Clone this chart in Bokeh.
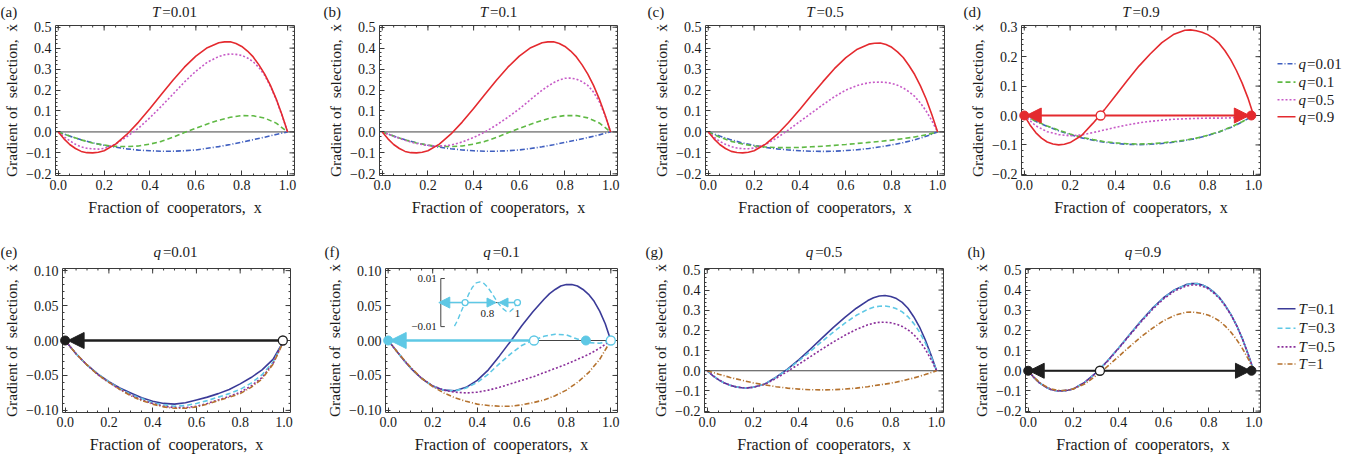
from bokeh.plotting import figure
from bokeh.models import Range1d, FixedTicker, Span, Arrow, NormalHead
from bokeh.layouts import row, column
from bokeh.embed import file_html
from bokeh.resources import INLINE
from bokeh.core.properties import value

# ---------------------------------------------------------------- data
# coarse grid (gently curved series) and fine grid (strongly curved series)
X = [0.0, 0.05, 0.1, 0.15, 0.2, 0.25, 0.3, 0.35, 0.4, 0.45, 0.5,
     0.55, 0.6, 0.65, 0.7, 0.75, 0.8, 0.85, 0.9, 0.95, 1.0]
XF = [0.0, 0.025, 0.05, 0.075, 0.1, 0.125, 0.15, 0.175, 0.2, 0.25, 0.3, 0.35, 0.4, 0.45,
      0.5, 0.55, 0.6, 0.65, 0.7, 0.725, 0.75, 0.775, 0.8, 0.825, 0.85, 0.875, 0.9, 0.925,
      0.95, 0.975, 1.0]

# (a) T=0.01
A_Q001 = [0.0, -0.020, -0.037, -0.052, -0.064, -0.073, -0.081, -0.087, -0.090, -0.092, -0.092,
          -0.090, -0.086, -0.078, -0.070, -0.060, -0.049, -0.037, -0.025, -0.012, 0.0]
A_Q01 = [0.0, -0.020, -0.038, -0.053, -0.063, -0.069, -0.070, -0.067, -0.058, -0.045, -0.025,
         -0.003, 0.018, 0.038, 0.056, 0.070, 0.078, 0.077, 0.066, 0.042, 0.0]
A_Q05 = [0.0, -0.023, -0.042, -0.059, -0.071, -0.078, -0.081, -0.082, -0.079, -0.058, -0.022,
         0.018, 0.068, 0.123, 0.180, 0.238, 0.290, 0.333, 0.360, 0.368, 0.372, 0.370, 0.365,
         0.353, 0.335, 0.307, 0.270, 0.218, 0.155, 0.080, 0.0]
A_Q09 = [0.0, -0.033, -0.060, -0.079, -0.093, -0.099, -0.100, -0.097, -0.090, -0.058, -0.011,
         0.047, 0.112, 0.180, 0.247, 0.309, 0.362, 0.402, 0.426, 0.430, 0.430, 0.422, 0.408,
         0.386, 0.358, 0.320, 0.276, 0.222, 0.158, 0.083, 0.0]
# (b) T=0.1
B_Q001 = [0.0, -0.020, -0.037, -0.052, -0.064, -0.073, -0.080, -0.086, -0.090, -0.092, -0.092,
          -0.090, -0.086, -0.079, -0.071, -0.061, -0.050, -0.039, -0.027, -0.014, 0.0]
B_Q01 = [0.0, -0.020, -0.038, -0.053, -0.063, -0.069, -0.070, -0.067, -0.058, -0.045, -0.026,
         -0.004, 0.017, 0.037, 0.055, 0.070, 0.078, 0.078, 0.067, 0.043, 0.0]
B_Q05 = [0.0, -0.010, -0.021, -0.030, -0.040, -0.048, -0.055, -0.060, -0.065, -0.068, -0.063,
         -0.048, -0.027, 0.000, 0.033, 0.070, 0.110, 0.155, 0.199, 0.218, 0.235, 0.248, 0.256,
         0.257, 0.252, 0.240, 0.222, 0.190, 0.145, 0.080, 0.0]
B_Q09 = [0.0, -0.033, -0.060, -0.079, -0.093, -0.099, -0.100, -0.097, -0.090, -0.058, -0.011,
         0.047, 0.112, 0.180, 0.247, 0.309, 0.362, 0.402, 0.426, 0.430, 0.430, 0.422, 0.408,
         0.386, 0.358, 0.320, 0.276, 0.222, 0.158, 0.083, 0.0]
# (c) T=0.5
C_Q001 = [0.0, -0.020, -0.038, -0.053, -0.064, -0.074, -0.081, -0.086, -0.090, -0.092, -0.093,
          -0.092, -0.089, -0.085, -0.079, -0.071, -0.062, -0.051, -0.038, -0.021, 0.0]
C_Q01 = [0.0, -0.025, -0.045, -0.058, -0.067, -0.072, -0.075, -0.075, -0.074, -0.071, -0.068,
         -0.064, -0.060, -0.055, -0.050, -0.045, -0.039, -0.032, -0.024, -0.014, 0.0]
C_Q05 = [0.0, -0.025, -0.045, -0.059, -0.070, -0.077, -0.080, -0.080, -0.077, -0.060, -0.028,
         0.010, 0.050, 0.090, 0.130, 0.168, 0.200, 0.222, 0.235, 0.237, 0.238, 0.236, 0.232,
         0.223, 0.210, 0.192, 0.170, 0.138, 0.100, 0.053, 0.0]
C_Q09 = [0.0, -0.033, -0.060, -0.079, -0.093, -0.098, -0.100, -0.097, -0.090, -0.058, -0.012,
         0.045, 0.108, 0.175, 0.240, 0.302, 0.355, 0.395, 0.419, 0.423, 0.424, 0.417, 0.404,
         0.382, 0.355, 0.317, 0.274, 0.220, 0.157, 0.082, 0.0]
# (d) T=0.9
D_Q001 = [0.0, -0.020, -0.037, -0.052, -0.065, -0.076, -0.084, -0.091, -0.095, -0.098, -0.099,
          -0.098, -0.095, -0.091, -0.085, -0.078, -0.068, -0.056, -0.041, -0.022, 0.0]
D_Q01 = [0.0, -0.019, -0.036, -0.050, -0.063, -0.074, -0.082, -0.089, -0.093, -0.096, -0.097,
         -0.096, -0.093, -0.089, -0.084, -0.077, -0.067, -0.055, -0.040, -0.021, 0.0]
D_Q05 = [0.0, -0.035, -0.055, -0.065, -0.069, -0.066, -0.058, -0.049, -0.040, -0.032, -0.025,
         -0.020, -0.016, -0.013, -0.011, -0.010, -0.009, -0.009, -0.008, -0.005, 0.0]
D_Q09 = [0.0, -0.032, -0.058, -0.077, -0.090, -0.097, -0.100, -0.098, -0.092, -0.068, -0.026,
         0.020, 0.070, 0.120, 0.168, 0.210, 0.248, 0.275, 0.290, 0.291, 0.288, 0.283, 0.275,
         0.262, 0.245, 0.220, 0.190, 0.153, 0.110, 0.060, 0.0]
# (e) q=0.01
E_T01 = [0.0, -0.019, -0.035, -0.048, -0.059, -0.068, -0.075, -0.082, -0.087, -0.090, -0.091,
         -0.089, -0.085, -0.081, -0.076, -0.070, -0.062, -0.053, -0.042, -0.027, 0.0]
E_T03 = [0.0, -0.019, -0.035, -0.048, -0.059, -0.069, -0.077, -0.083, -0.089, -0.092, -0.094,
         -0.093, -0.090, -0.086, -0.081, -0.076, -0.070, -0.061, -0.049, -0.031, 0.0]
E_T05 = [0.0, -0.019, -0.035, -0.049, -0.060, -0.070, -0.078, -0.085, -0.090, -0.094, -0.096,
         -0.096, -0.094, -0.090, -0.085, -0.080, -0.074, -0.065, -0.053, -0.033, 0.0]
E_T1 = [0.0, -0.019, -0.035, -0.049, -0.060, -0.070, -0.079, -0.086, -0.091, -0.095, -0.097,
        -0.097, -0.095, -0.091, -0.086, -0.081, -0.076, -0.067, -0.055, -0.034, 0.0]
# (f) q=0.1
F_T01 = [0.0, -0.010, -0.020, -0.030, -0.039, -0.047, -0.054, -0.060, -0.065, -0.071, -0.072,
         -0.067, -0.057, -0.042, -0.022, -0.001, 0.021, 0.041, 0.059, 0.067, 0.073, 0.078,
         0.080, 0.080, 0.078, 0.073, 0.066, 0.056, 0.042, 0.024, 0.0]
F_T03 = [0.0, -0.020, -0.039, -0.054, -0.065, -0.071, -0.072, -0.068, -0.060, -0.048, -0.033,
         -0.019, -0.007, 0.000, 0.006, 0.009, 0.008, 0.002, -0.003, -0.004, 0.0]
F_T05 = [0.0, -0.020, -0.039, -0.054, -0.065, -0.071, -0.074, -0.075, -0.074, -0.071, -0.067,
         -0.062, -0.057, -0.052, -0.046, -0.040, -0.034, -0.027, -0.020, -0.011, 0.0]
F_T1 = [0.0, -0.020, -0.038, -0.054, -0.066, -0.075, -0.082, -0.087, -0.091, -0.093, -0.094,
        -0.094, -0.092, -0.089, -0.085, -0.079, -0.071, -0.060, -0.046, -0.027, 0.0]
# (f) inset, T=0.3 close to x=1
INSET_X = [0.58, 0.6, 0.625, 0.65, 0.675, 0.7, 0.725, 0.75, 0.775, 0.8, 0.825, 0.85,
           0.875, 0.9, 0.925, 0.95, 0.975, 1.0]
INSET_Y = [-0.0098, -0.0075, -0.0037, -0.0001, 0.0035, 0.0064, 0.0082, 0.0086, 0.0080, 0.0065,
           0.0043, 0.0018, -0.0005, -0.0024, -0.0036, -0.0037, -0.0024, 0.0]
# (g) q=0.5
G_T01 = [0.0, -0.025, -0.045, -0.061, -0.072, -0.080, -0.084, -0.085, -0.082, -0.066, -0.032,
         0.008, 0.055, 0.108, 0.162, 0.215, 0.265, 0.310, 0.348, 0.362, 0.371, 0.373, 0.368,
         0.358, 0.339, 0.310, 0.268, 0.218, 0.155, 0.080, 0.0]
G_T03 = [0.0, -0.025, -0.045, -0.061, -0.072, -0.080, -0.084, -0.085, -0.082, -0.066, -0.033,
         0.006, 0.050, 0.097, 0.145, 0.192, 0.236, 0.275, 0.305, 0.315, 0.320, 0.321, 0.317,
         0.307, 0.292, 0.268, 0.235, 0.193, 0.140, 0.073, 0.0]
G_T05 = [0.0, -0.025, -0.045, -0.061, -0.072, -0.080, -0.084, -0.085, -0.082, -0.068, -0.038,
         -0.003, 0.033, 0.070, 0.107, 0.143, 0.176, 0.205, 0.228, 0.236, 0.240, 0.241, 0.238,
         0.231, 0.220, 0.203, 0.180, 0.148, 0.108, 0.057, 0.0]
G_T1 = [0.0, -0.017, -0.033, -0.047, -0.060, -0.070, -0.079, -0.086, -0.091, -0.094, -0.095,
        -0.094, -0.091, -0.086, -0.079, -0.070, -0.062, -0.050, -0.036, -0.019, 0.0]
# (h) q=0.9
H_T01 = [0.0, -0.033, -0.060, -0.079, -0.093, -0.099, -0.100, -0.097, -0.090, -0.058, -0.011,
         0.047, 0.112, 0.180, 0.247, 0.309, 0.362, 0.402, 0.427, 0.432, 0.432, 0.424, 0.410,
         0.388, 0.360, 0.322, 0.277, 0.223, 0.158, 0.083, 0.0]
H_T03 = [0.0, -0.033, -0.060, -0.079, -0.093, -0.099, -0.100, -0.097, -0.090, -0.058, -0.011,
         0.047, 0.111, 0.179, 0.246, 0.308, 0.361, 0.401, 0.426, 0.431, 0.431, 0.423, 0.409,
         0.387, 0.359, 0.321, 0.277, 0.223, 0.158, 0.083, 0.0]
H_T05 = [0.0, -0.033, -0.060, -0.079, -0.093, -0.099, -0.100, -0.097, -0.090, -0.058, -0.012,
         0.045, 0.109, 0.176, 0.242, 0.303, 0.356, 0.396, 0.420, 0.425, 0.425, 0.418, 0.405,
         0.383, 0.356, 0.318, 0.275, 0.221, 0.157, 0.082, 0.0]
H_T1 = [0.0, -0.032, -0.058, -0.076, -0.090, -0.096, -0.098, -0.096, -0.090, -0.066, -0.025,
        0.020, 0.070, 0.120, 0.168, 0.210, 0.248, 0.275, 0.290, 0.291, 0.288, 0.283, 0.275,
        0.262, 0.245, 0.220, 0.190, 0.153, 0.110, 0.060, 0.0]

# equilibria (fixed points) marked on the x axis
D_STABLE, D_UNSTABLE = [0.0, 0.99], [0.333]
E_STABLE, E_UNSTABLE = [0.0], [0.995]
F_STABLE, F_UNSTABLE = [0.0, 0.888], [0.655, 1.0]
FI_STABLE, FI_UNSTABLE = [0.867], [0.651, 1.0]
H_STABLE, H_UNSTABLE = [0.0, 0.99], [0.318]

TOP_VAR, TOP_VALUES = "q", ["=0.01", "=0.1", "=0.5", "=0.9"]
BOT_VAR, BOT_VALUES = "T", ["=0.1", "=0.3", "=0.5", "=1"]
TOP_TITLE_VAR, TOP_TITLE_VALUES = "T", ["=0.01", "=0.1", "=0.5", "=0.9"]
BOT_TITLE_VAR, BOT_TITLE_VALUES = "q", ["=0.01", "=0.1", "=0.5", "=0.9"]
LETTERS = ["(a)", "(b)", "(c)", "(d)", "(e)", "(f)", "(g)", "(h)"]
X_LABEL = "Fraction of\u2002cooperators,\u2002x"
Y_LABEL = "Gradient of\u2002selection,\u2002\u1e8b"

XTICKS = [0.0, 0.2, 0.4, 0.6, 0.8, 1.0]
XTICK_LABELS = ["0.0", "0.2", "0.4", "0.6", "0.8", "1.0"]
Y_WIDE_TICKS = [-0.2, -0.1, 0.0, 0.1, 0.2, 0.3, 0.4, 0.5]
Y_WIDE_LABELS = ["\u22120.2", "\u22120.1", "0.0", "0.1", "0.2", "0.3", "0.4", "0.5"]
Y_D_TICKS = [-0.2, -0.1, 0.0, 0.1, 0.2, 0.3]
Y_D_LABELS = ["\u22120.2", "\u22120.1", "0.0", "0.1", "0.2", "0.3"]
Y_NARROW_TICKS = [-0.1, -0.05, 0.0, 0.05, 0.1]
Y_NARROW_LABELS = ["\u22120.10", "\u22120.05", "0.00", "0.05", "0.10"]
INSET_XTICKS = [0.8, 1.0]
INSET_XTICK_LABELS = ["0.8", "1"]
INSET_YTICKS = [0.01, -0.01]
INSET_YTICK_LABELS = ["0.01", "\u22120.01"]

# ---------------------------------------------------------------- style / layout
FONT = "Liberation Serif"
INK = "#1a1a1a"
FRAME = "#3a3a3a"
TOP_COLORS = ["#3f5fc0", "#5fb944", "#c75bc7", "#e42a2f"]
TOP_DASH = ["5 2 1 2", "5 3", "2 2", "solid"]
BOT_COLORS = ["#3b3b98", "#5ec8e5", "#8a2e9a", "#b5722e"]
BOT_DASH = ["solid", "5 3", "2 2", "5 2 1 2"]
RED = "#e42a2f"
CYAN = "#5ec8e5"
BLACK = "#1e1e1e"

XR = (-0.012, 1.03)
YR_WIDE = (-0.208, 0.508)
YR_D = (-0.204, 0.306)
YR_NARROW = (-0.103, 0.103)
YR_WIDE2 = (-0.207, 0.507)

# page geometry (x from the page's left edge, y from the top of the layout)
HDR1 = dict(top=0, H=20)
HDR2 = dict(top=232, H=30)
GEOM = {
    "a": dict(left=8, top=20, W=317, H=212, L=54, R=23, T=5, B=57),
    "b": dict(left=325, top=20, W=327, H=212, L=62, R=27, T=5, B=57),
    "c": dict(left=652, top=20, W=320, H=212, L=61, R=20, T=5, B=57),
    "d": dict(left=972, top=20, W=300, H=212, L=57, R=4, T=5, B=57),
    "e": dict(left=8, top=262, W=317, H=193, L=60, R=27, T=6, B=42),
    "f": dict(left=325, top=262, W=327, H=193, L=68, R=27, T=6, B=42),
    "g": dict(left=652, top=262, W=320, H=193, L=60, R=21, T=6, B=42),
    "h": dict(left=972, top=262, W=300, H=193, L=61, R=4, T=6, B=42),
}
LEG_W = 86
LEG_TOP_Y = [74, 100, 125, 149]
LEG_BOT_Y = [316, 342, 367, 390]
LETTER_X = {"a": 8, "b": 331, "c": 655, "d": 971, "e": 8, "f": 332, "g": 653, "h": 975}
TITLE_Y1, TITLE_Y2 = 11, 251

CW = {".": 3.75, "=": 8.5, "T": 8.3, "q": 7.5}


def tw(s):
    return sum(CW.get(c, 7.5) for c in s)


def frame_of(g):
    fl = g["left"] + g["L"]
    ft = g["top"] + g["T"]
    return fl, ft, g["W"] - g["L"] - g["R"], g["H"] - g["T"] - g["B"]


def style_axis(ax, label_size):
    ax.axis_line_color = None
    ax.major_tick_in = 5
    ax.major_tick_out = 0
    ax.minor_tick_in = 2
    ax.minor_tick_out = 0
    ax.major_tick_line_color = FRAME
    ax.minor_tick_line_color = FRAME
    ax.major_label_text_font = FONT
    ax.major_label_text_font_size = "14px"
    ax.major_label_text_color = INK
    ax.major_label_standoff = 4
    ax.axis_label_text_font = FONT
    ax.axis_label_text_font_size = label_size
    ax.axis_label_text_font_style = "normal"
    ax.axis_label_text_color = INK


def add_arrow(p, x0, x1, color, lw, size, rng=None):
    kw = {}
    if rng:
        kw = dict(x_range_name=rng[0], y_range_name=rng[1])
    p.add_layout(Arrow(end=NormalHead(size=size, fill_color=color, line_color=color, line_width=1),
                       x_start=x0, y_start=0, x_end=x1, y_end=0,
                       line_color=color, line_width=lw, **kw))


def add_points(p, stable, unstable, color, size=9, rng=None):
    kw = {}
    if rng:
        kw = dict(x_range_name=rng[0], y_range_name=rng[1])
    if stable:
        p.scatter(stable, [0.0] * len(stable), size=size, fill_color=color, line_color=color,
                  level="overlay", **kw)
    if unstable:
        p.scatter(unstable, [0.0] * len(unstable), size=size, fill_color="white",
                  line_color=color, line_width=1.3, level="overlay", **kw)


def blank_fig(x0, x1, y_top, y_bot, w, h):
    p = figure(width=w, height=h, x_range=Range1d(x0, x1), y_range=Range1d(y_bot, y_top),
               min_border=0, x_axis_location=None, y_axis_location=None,
               output_backend="svg", toolbar_location=None)
    p.xgrid.visible = False
    p.ygrid.visible = False
    p.outline_line_color = None
    p.background_fill_color = "white"
    p.border_fill_color = "white"
    return p


def put_text(p, xs, ys, texts, italic=False, size="15px", align="left"):
    p.text(x=xs, y=ys, text=texts, text_font=value(FONT), text_font_size=size,
           text_font_style="italic" if italic else "normal", text_color=INK,
           text_align=align, text_baseline="middle")


def build(key, series, colors, dashes, yr, yticks, ylabels, yminor):
    g = GEOM[key]
    p = figure(width=g["W"], height=g["H"], min_border_left=g["L"], min_border_right=g["R"],
               min_border_top=g["T"], min_border_bottom=g["B"],
               x_range=Range1d(*XR), y_range=Range1d(*yr),
               output_backend="svg", toolbar_location=None,
               x_axis_label=X_LABEL, y_axis_label=Y_LABEL)
    p.xgrid.visible = False
    p.ygrid.visible = False
    p.outline_line_color = FRAME
    p.outline_line_width = 1
    p.background_fill_color = "white"
    p.border_fill_color = "white"

    xminor = [round(0.05 * i, 2) for i in range(21)]
    p.xaxis.ticker = FixedTicker(ticks=XTICKS, minor_ticks=xminor)
    p.yaxis.ticker = FixedTicker(ticks=yticks, minor_ticks=yminor)
    p.xaxis.major_label_overrides = dict(zip(XTICKS, XTICK_LABELS))
    p.yaxis.major_label_overrides = dict(zip(yticks, ylabels))
    style_axis(p.xaxis[0], "16px")
    style_axis(p.yaxis[0], "15.5px")
    p.xaxis.axis_label_standoff = 6
    p.yaxis.axis_label_standoff = 3

    # mirrored ticks on the top and right edges of the frame
    fl, ft, fw, fh = frame_of(g)
    ux = (XR[1] - XR[0]) / fw
    uy = (yr[1] - yr[0]) / fh
    tx = XTICKS + xminor
    tlen = [5 * uy] * len(XTICKS) + [2 * uy] * len(xminor)
    p.segment(x0=tx, y0=[yr[1]] * len(tx), x1=tx, y1=[yr[1] - d for d in tlen],
              line_color=FRAME, line_width=1)
    ty = yticks + yminor
    tlen = [5 * ux] * len(yticks) + [2 * ux] * len(yminor)
    p.segment(x0=[XR[1]] * len(ty), y0=ty, x1=[XR[1] - d for d in tlen], y1=ty,
              line_color=FRAME, line_width=1)

    p.add_layout(Span(location=0, dimension="width", line_color="#444444", line_width=1,
                      level="underlay"))
    for (xs, ys), c, d in zip(series, colors, dashes):
        p.line(xs, ys, line_color=c, line_width=1.6, line_dash=d)
    return p


def px_per_x(key):
    fl, ft, fw, fh = frame_of(GEOM[key])
    return fw / (XR[1] - XR[0])


def header(hdr, keys, var, values, ty):
    p = blank_fig(8, 1358, hdr["top"], hdr["top"] + hdr["H"], 1350, hdr["H"])
    for k, val in zip(keys, values):
        letter = LETTERS["abcdefgh".index(k)]
        fl, ft, fw, fh = frame_of(GEOM[k])
        total = tw(var) + 2 + tw(val)
        sx = fl + fw / 2 - total / 2
        put_text(p, [sx], [ty], [var], italic=True)
        put_text(p, [sx + tw(var) + 2], [ty], [val])
        put_text(p, [LETTER_X[k]], [ty], [letter])
    return p


def legend_fig(key, colors, dashes, var, values, ys):
    g = GEOM[key]
    x0 = g["left"] + g["W"]
    p = blank_fig(x0, x0 + LEG_W, g["top"], g["top"] + g["H"], LEG_W, g["H"])
    for c, d, val, y in zip(colors, dashes, values, ys):
        p.line([x0 + 13, x0 + 31], [y, y], line_color=c, line_width=1.6, line_dash=d)
        put_text(p, [x0 + 34], [y], [var], italic=True)
        put_text(p, [x0 + 34 + tw(var) + 1], [y], [val])
    return p


wy_minor = [round(-0.2 + 0.02 * i, 3) for i in range(36)]
dy_minor = [round(-0.2 + 0.02 * i, 3) for i in range(26)]
ny_minor = [round(-0.1 + 0.01 * i, 3) for i in range(21)]

pa = build("a", [(X, A_Q001), (X, A_Q01), (XF, A_Q05), (XF, A_Q09)], TOP_COLORS, TOP_DASH,
           YR_WIDE, Y_WIDE_TICKS, Y_WIDE_LABELS, wy_minor)
pb = build("b", [(X, B_Q001), (X, B_Q01), (XF, B_Q05), (XF, B_Q09)], TOP_COLORS, TOP_DASH,
           YR_WIDE, Y_WIDE_TICKS, Y_WIDE_LABELS, wy_minor)
pc = build("c", [(X, C_Q001), (X, C_Q01), (XF, C_Q05), (XF, C_Q09)], TOP_COLORS, TOP_DASH,
           YR_WIDE, Y_WIDE_TICKS, Y_WIDE_LABELS, wy_minor)
pd_ = build("d", [(X, D_Q001), (X, D_Q01), (X, D_Q05), (XF, D_Q09)], TOP_COLORS, TOP_DASH,
            YR_D, Y_D_TICKS, Y_D_LABELS, dy_minor)
pe = build("e", [(X, E_T01), (X, E_T03), (X, E_T05), (X, E_T1)], BOT_COLORS, BOT_DASH,
           YR_NARROW, Y_NARROW_TICKS, Y_NARROW_LABELS, ny_minor)
pf = build("f", [(XF, F_T01), (X, F_T03), (X, F_T05), (X, F_T1)], BOT_COLORS, BOT_DASH,
           YR_NARROW, Y_NARROW_TICKS, Y_NARROW_LABELS, ny_minor)
pg = build("g", [(XF, G_T01), (XF, G_T03), (XF, G_T05), (X, G_T1)], BOT_COLORS, BOT_DASH,
           YR_WIDE2, Y_WIDE_TICKS, Y_WIDE_LABELS, wy_minor)
ph = build("h", [(XF, H_T01), (XF, H_T03), (XF, H_T05), (XF, H_T1)], BOT_COLORS, BOT_DASH,
           YR_WIDE2, Y_WIDE_TICKS, Y_WIDE_LABELS, wy_minor)

# ---- phase-line arrows and fixed points
k = px_per_x("d")
add_arrow(pd_, D_UNSTABLE[0], D_STABLE[0] + 2 / k, RED, 2, 15)
add_arrow(pd_, D_UNSTABLE[0], D_STABLE[1] - 2 / k, RED, 2, 15)
add_points(pd_, D_STABLE, D_UNSTABLE, RED)

k = px_per_x("e")
add_arrow(pe, E_UNSTABLE[0], E_STABLE[0] + 3 / k, BLACK, 2.5, 16)
add_points(pe, E_STABLE, E_UNSTABLE, BLACK)

k = px_per_x("f")
add_arrow(pf, F_UNSTABLE[0], F_STABLE[0] + 2 / k, CYAN, 2.5, 16)
add_points(pf, F_STABLE, F_UNSTABLE, CYAN)

k = px_per_x("h")
add_arrow(ph, H_UNSTABLE[0], H_STABLE[0] + 1 / k, BLACK, 2, 15)
add_arrow(ph, H_UNSTABLE[0], H_STABLE[1] - 1 / k, BLACK, 2, 15)
add_points(ph, H_STABLE, H_UNSTABLE, BLACK)

# ---- inset of panel (f): its own scales placed inside the frame
ffl, fft, ffw, ffh = frame_of(GEOM["f"])
INSET_AXIS_X = 0.489                 # where the inset's vertical axis sits (inset units)
IPX_X, IPX_Y = 150.0, 2420.0         # inset scale, px per unit
IPAGE_X, IPAGE_Y = 448.3, 302.3      # page position of the inset origin
ix0 = INSET_AXIS_X - (IPAGE_X - ffl) / IPX_X
iy1 = (IPAGE_Y - fft) / IPX_Y
pf.extra_x_ranges = {"ix": Range1d(ix0, ix0 + ffw / IPX_X)}
pf.extra_y_ranges = {"iy": Range1d(iy1 - ffh / IPX_Y, iy1)}
RNG = ("ix", "iy")
tick_dx = 4 / IPX_X
pf.segment(x0=[INSET_AXIS_X], y0=[0.0], x1=[1.0], y1=[0.0], line_color="#555555",
           line_width=1, x_range_name="ix", y_range_name="iy")
pf.segment(x0=[INSET_AXIS_X] * 3, y0=[INSET_YTICKS[1], INSET_YTICKS[0], INSET_YTICKS[1]],
           x1=[INSET_AXIS_X, INSET_AXIS_X + tick_dx, INSET_AXIS_X + tick_dx],
           y1=[INSET_YTICKS[0], INSET_YTICKS[0], INSET_YTICKS[1]],
           line_color="#444444", line_width=1, x_range_name="ix", y_range_name="iy")
pf.line(INSET_X, INSET_Y, line_color=CYAN, line_width=1.4, line_dash="5 3",
        x_range_name="ix", y_range_name="iy")
pf.text(x=[INSET_AXIS_X - 4 / IPX_X] * 2, y=INSET_YTICKS, text=INSET_YTICK_LABELS,
        text_font=value(FONT), text_font_size="11px", text_color=INK, text_align="right",
        text_baseline="middle", x_range_name="ix", y_range_name="iy")
pf.text(x=INSET_XTICKS, y=[-11 / IPX_Y] * 2, text=INSET_XTICK_LABELS,
        text_font=value(FONT), text_font_size="11px", text_color=INK, text_align="center",
        text_baseline="middle", x_range_name="ix", y_range_name="iy")
add_arrow(pf, FI_UNSTABLE[0], INSET_AXIS_X - 2 / IPX_X, CYAN, 1.6, 11, RNG)
add_arrow(pf, FI_UNSTABLE[0], FI_STABLE[0] - 1.5 / IPX_X, CYAN, 1.6, 9, RNG)
add_arrow(pf, FI_UNSTABLE[1], FI_STABLE[0] + 1.5 / IPX_X, CYAN, 1.6, 9, RNG)
add_points(pf, [], FI_UNSTABLE, CYAN, size=6, rng=RNG)

# ---- titles, panel letters, legends
h1 = header(HDR1, "abcd", TOP_TITLE_VAR, TOP_TITLE_VALUES, TITLE_Y1)
h2 = header(HDR2, "efgh", BOT_TITLE_VAR, BOT_TITLE_VALUES, TITLE_Y2)
leg_top = legend_fig("d", TOP_COLORS, TOP_DASH, TOP_VAR, TOP_VALUES, LEG_TOP_Y)
leg_bot = legend_fig("h", BOT_COLORS, BOT_DASH, BOT_VAR, BOT_VALUES, LEG_BOT_Y)

layout = column(h1, row(pa, pb, pc, pd_, leg_top), h2, row(pe, pf, pg, ph, leg_bot))
open("out.html", "w").write(file_html(layout, INLINE))
